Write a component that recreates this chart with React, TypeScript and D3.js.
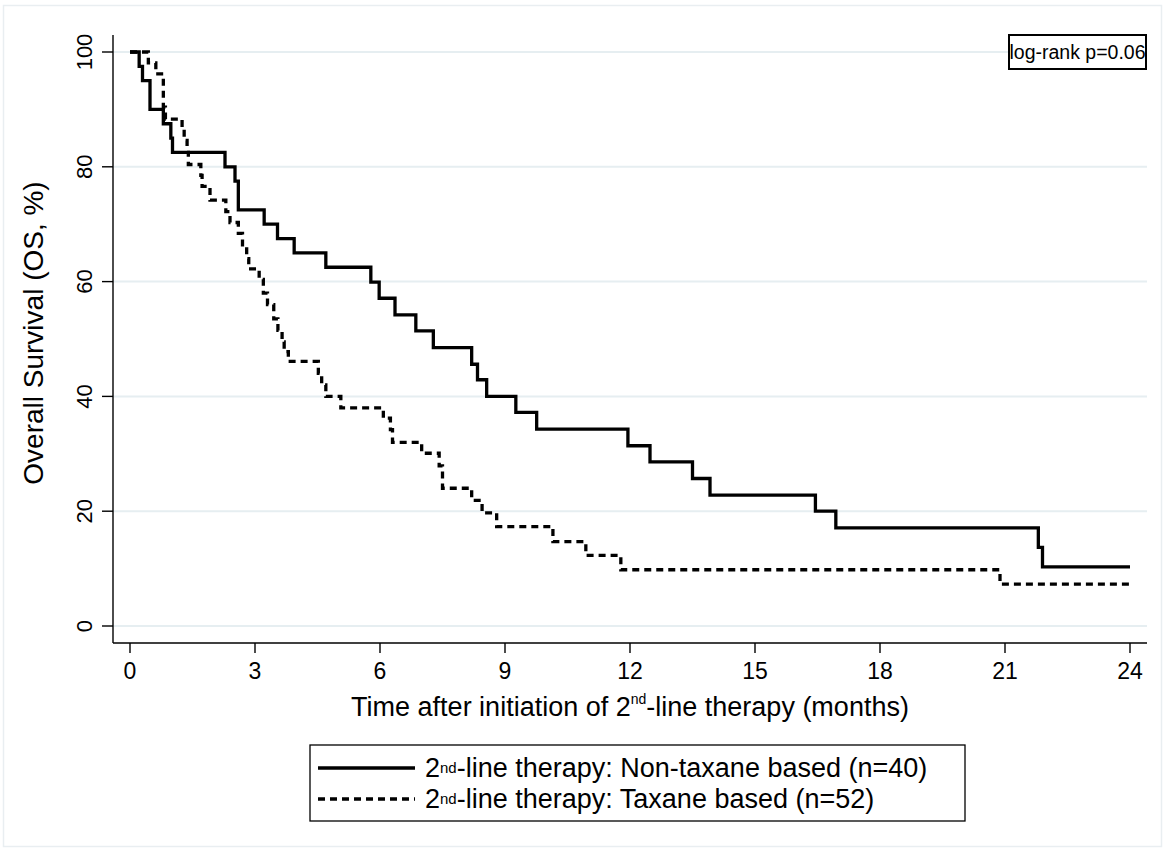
import * as d3 from 'd3';

// Kaplan-Meier steps: [months, survival %]
const nonTaxane: [number, number][] = [
  [0, 100], [0.22, 97.5], [0.3, 95], [0.48, 90], [0.8, 87.5], [0.98, 85], [1.02, 82.5],
  [2.28, 80], [2.52, 77.5], [2.6, 72.5], [3.22, 70], [3.54, 67.5], [3.94, 65], [4.7, 62.5],
  [5.78, 59.9], [5.98, 57.1], [6.36, 54.2], [6.86, 51.4], [7.28, 48.5], [8.2, 45.6],
  [8.34, 42.9], [8.56, 40], [9.26, 37.2], [9.76, 34.3], [11.95, 31.4], [12.48, 28.6],
  [13.5, 25.7], [13.92, 22.8], [16.45, 20], [16.94, 17.1], [21.8, 13.7], [21.9, 10.3], [24, 10.3],
];

const taxane: [number, number][] = [
  [0, 100], [0.44, 98.1], [0.62, 96.2], [0.8, 90.4], [0.85, 88.3], [1.25, 86.5], [1.3, 84.6],
  [1.37, 82.5], [1.4, 80.4], [1.7, 78.5], [1.73, 76.6], [1.92, 74.2], [2.3, 72.2], [2.4, 70.3],
  [2.6, 68.4], [2.7, 66.4], [2.8, 64.0], [2.85, 62.2], [3.1, 60.4], [3.2, 58.0], [3.3, 56.0],
  [3.45, 53.5], [3.55, 51.5], [3.65, 49.5], [3.7, 47.8], [3.8, 46.1], [4.52, 44.0], [4.6, 42.0],
  [4.7, 40.0], [5.06, 38.0], [6.08, 36.2], [6.25, 34.2], [6.3, 32.0], [7.0, 30.1], [7.42, 27.9],
  [7.5, 24.0], [8.2, 21.9], [8.45, 19.7], [8.8, 17.3], [10.15, 14.7], [10.94, 12.3], [11.78, 9.8],
  [20.88, 7.3], [24, 7.3],
];

const xTicks = [0, 3, 6, 9, 12, 15, 18, 21, 24];
const yTicks = [0, 20, 40, 60, 80, 100];

const legendItems = [
  { label: 'Non-taxane based (n=40)', dash: 'none' },
  { label: 'Taxane based (n=52)', dash: '7,5' },
];

const sans = '"Liberation Sans", Arial, Helvetica, sans-serif';

export default function App() {
  const width = 1169;
  const height = 852;

  const plot = { left: 113, right: 1147, top: 35, bottom: 643 };

  const x = d3.scaleLinear().domain([0, 24]).range([130, 1130]);
  const y = d3.scaleLinear().domain([0, 100]).range([626, 52]);

  const line = d3.line<[number, number]>()
    .x(d => x(d[0]))
    .y(d => y(d[1]))
    .curve(d3.curveStepAfter);

  const grid = '#e6eef1';

  return (
    <svg width={width} height={height} style={{ position: 'absolute', left: 0, top: 0, background: '#fff' }}>
      {/* outer graph region frame */}
      <rect x={3.5} y={5.5} width={1158} height={841} fill="none" stroke="#e9eef1" strokeWidth={1.5} />

      {/* grid lines */}
      {yTicks.map(t => (
        <line key={'g' + t} x1={plot.left} x2={plot.right} y1={y(t)} y2={y(t)} stroke={grid} strokeWidth={2} />
      ))}

      {/* y axis */}
      <line x1={plot.left} x2={plot.left} y1={plot.top} y2={plot.bottom} stroke="#000" strokeWidth={1.4} />
      {yTicks.map(t => (
        <g key={'y' + t}>
          <line x1={plot.left - 11} x2={plot.left} y1={y(t)} y2={y(t)} stroke="#000" strokeWidth={1.4} />
          <text
            transform={`translate(${plot.left - 21},${y(t)}) rotate(-90)`}
            textAnchor="middle"
            fontFamily={sans}
            fontSize={22}
          >
            {t}
          </text>
        </g>
      ))}
      <text
        transform={`translate(43,${(plot.top + plot.bottom) / 2 - 6}) rotate(-90)`}
        textAnchor="middle"
        fontFamily={sans}
        fontSize={28}
      >
        Overall Survival (OS, %)
      </text>

      {/* x axis */}
      <line x1={plot.left} x2={plot.right} y1={plot.bottom} y2={plot.bottom} stroke="#000" strokeWidth={1.4} />
      {xTicks.map(t => (
        <g key={'x' + t}>
          <line x1={x(t)} x2={x(t)} y1={plot.bottom} y2={plot.bottom + 10} stroke="#000" strokeWidth={1.4} />
          <text x={x(t)} y={679} textAnchor="middle" fontFamily={sans} fontSize={23}>
            {t}
          </text>
        </g>
      ))}
      <text x={(plot.left + plot.right) / 2} y={716} textAnchor="middle" fontFamily={sans} fontSize={27}>
        Time after initiation of 2<tspan fontSize={14} dy={-12}>nd</tspan><tspan dy={12}>-line therapy (months)</tspan>
      </text>

      {/* survival curves */}
      <path d={line(nonTaxane) ?? ''} fill="none" stroke="#000" strokeWidth={3.3} />
      <path d={line(taxane) ?? ''} fill="none" stroke="#000" strokeWidth={3.3} strokeDasharray="7,5" />

      {/* log-rank box */}
      <rect x={1009} y={35} width={137} height={34} fill="#fff" stroke="#000" strokeWidth={2} />
      <text x={1077.5} y={59} textAnchor="middle" fontFamily={sans} fontSize={19.5}>log-rank p=0.06</text>

      {/* legend */}
      <rect x={310} y={745} width={655} height={76} fill="#fff" stroke="#000" strokeWidth={1.3} />
      {legendItems.map((d, i) => {
        const cy = 768 + i * 31;
        return (
          <g key={d.label}>
            <line x1={318} x2={415} y1={cy} y2={cy} stroke="#000" strokeWidth={3.3} strokeDasharray={d.dash} />
            <text x={425} y={cy + 9} fontFamily={sans} fontSize={27}>
              2<tspan fontSize={15} dy={-4}>nd</tspan><tspan dy={4}>-line therapy: {d.label}</tspan>
            </text>
          </g>
        );
      })}
    </svg>
  );
}
